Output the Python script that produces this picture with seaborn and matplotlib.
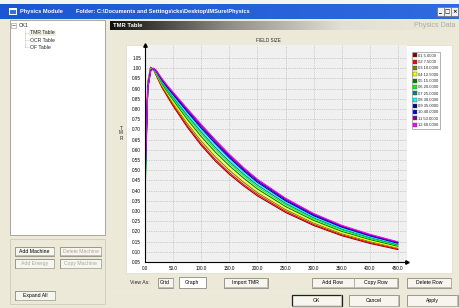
import matplotlib
matplotlib.use("Agg")
import matplotlib.pyplot as plt
import numpy as np
import pandas as pd
import seaborn as sns
from matplotlib.patches import Rectangle, Patch
from matplotlib.colors import LinearSegmentedColormap

# --------------------------------------------------
# Data
# --------------------------------------------------

depths = [0, 5, 10, 15, 20, 30, 40, 50, 75, 100, 125, 150, 175, 200, 250, 300, 350, 400, 450]

field_sizes = [5.0, 7.5, 10.0, 12.5, 15.0, 20.0, 25.0, 30.0, 35.0, 40.0, 50.0, 60.0]

field_colors = ["#800000", "#ff0000", "#808000", "#ffff00", "#008000", "#00ff00",
                "#008080", "#00ffff", "#000080", "#0000ff", "#800080", "#ff00ff"]

tmr_05_0 = [0.40, 0.930, 1.005, 0.995, 0.965, 0.907, 0.860, 0.815, 0.712, 0.622, 0.545, 0.480, 0.424, 0.374, 0.293, 0.229, 0.179, 0.141, 0.111]
tmr_07_5 = [0.62, 0.928, 1.003, 0.995, 0.967, 0.910, 0.864, 0.820, 0.719, 0.630, 0.553, 0.488, 0.431, 0.381, 0.299, 0.234, 0.183, 0.145, 0.114]
tmr_10_0 = [0.42, 0.924, 1.001, 0.996, 0.970, 0.916, 0.871, 0.829, 0.730, 0.643, 0.566, 0.500, 0.442, 0.390, 0.307, 0.241, 0.189, 0.150, 0.119]
tmr_12_5 = [0.38, 0.921, 0.999, 0.997, 0.973, 0.920, 0.877, 0.835, 0.739, 0.653, 0.577, 0.510, 0.451, 0.399, 0.314, 0.247, 0.194, 0.155, 0.122]
tmr_15_0 = [0.36, 0.917, 0.997, 0.997, 0.976, 0.925, 0.883, 0.844, 0.750, 0.665, 0.589, 0.522, 0.462, 0.408, 0.322, 0.254, 0.200, 0.160, 0.127]
tmr_20_0 = [0.35, 0.914, 0.994, 0.998, 0.979, 0.930, 0.890, 0.852, 0.761, 0.678, 0.602, 0.534, 0.473, 0.418, 0.331, 0.261, 0.207, 0.165, 0.132]
tmr_25_0 = [0.40, 0.911, 0.992, 0.998, 0.981, 0.935, 0.895, 0.859, 0.770, 0.688, 0.612, 0.543, 0.482, 0.427, 0.338, 0.267, 0.212, 0.170, 0.135]
tmr_30_0 = [0.42, 0.908, 0.990, 0.999, 0.983, 0.938, 0.900, 0.865, 0.778, 0.697, 0.622, 0.552, 0.490, 0.434, 0.344, 0.272, 0.216, 0.174, 0.139]
tmr_35_0 = [0.44, 0.905, 0.989, 0.999, 0.986, 0.942, 0.905, 0.871, 0.787, 0.706, 0.631, 0.561, 0.498, 0.441, 0.350, 0.277, 0.221, 0.178, 0.142]
tmr_40_0 = [0.46, 0.903, 0.987, 0.999, 0.987, 0.945, 0.909, 0.876, 0.793, 0.714, 0.639, 0.568, 0.504, 0.447, 0.355, 0.281, 0.224, 0.181, 0.145]
tmr_50_0 = [0.48, 0.902, 0.986, 1.000, 0.989, 0.948, 0.912, 0.880, 0.799, 0.720, 0.645, 0.574, 0.510, 0.452, 0.360, 0.285, 0.227, 0.184, 0.147]
tmr_60_0 = [0.45, 0.900, 0.985, 1.000, 0.990, 0.950, 0.915, 0.883, 0.803, 0.725, 0.650, 0.579, 0.514, 0.456, 0.363, 0.288, 0.230, 0.186, 0.149]

tmr_series = [tmr_05_0, tmr_07_5, tmr_10_0, tmr_12_5, tmr_15_0, tmr_20_0,
              tmr_25_0, tmr_30_0, tmr_35_0, tmr_40_0, tmr_50_0, tmr_60_0]

x_ticks = [0, 50, 100, 150, 200, 250, 300, 350, 400, 450]
y_ticks = [round(0.05 * i, 2) for i in range(1, 22)]

tree_items = ["TMR Table", "OCR Table", "OF Table"]

# --------------------------------------------------
# Long form table
# --------------------------------------------------

labels = [f"{i + 1:02d} {fs:.4f}" for i, fs in enumerate(field_sizes)]

rows = []
for lab, vals in zip(labels, tmr_series):
    for d, v in zip(depths, vals):
        rows.append((lab, d, v))

df = pd.DataFrame(rows, columns=["field", "depth", "tmr"])
palette = dict(zip(labels, field_colors))

# --------------------------------------------------
# Style
# --------------------------------------------------

sns.set_style("white")
plt.rcParams["font.family"] = ["Liberation Sans", "DejaVu Sans"]

BEIGE = "#ece9d8"

fig = plt.figure(figsize=(4.59, 3.08), dpi=100)
fig.patch.set_facecolor(BEIGE)

# gui layer in pixel coordinates
gui = fig.add_axes([0, 0, 1, 1])
gui.set_xlim(0, 459)
gui.set_ylim(308, 0)
gui.axis("off")


def rect(x0, y0, x1, y1, face, edge="none", lw=0.6, z=1):
    gui.add_patch(Rectangle((x0, y0), x1 - x0, y1 - y0, facecolor=face,
                            edgecolor=edge, linewidth=lw, zorder=z))


def button(x0, x1, y0, y1, text, enabled=True, default=False, pressed=False):
    face = "#ffffff" if pressed else "#f6f5ee"
    rect(x0, y0, x1, y1, face, "#8c8a80" if not default else "#202020",
         lw=0.6 if not default else 0.9, z=2)
    if not pressed:
        gui.plot([x0 + 0.5, x1 - 0.5, x1 - 0.5], [y1 - 0.5, y1 - 0.5, y0 + 0.5],
                 color="#b8b6aa", lw=0.6, zorder=3)
    gui.text((x0 + x1) / 2, (y0 + y1) / 2 + 0.3, text, ha="center", va="center",
             fontsize=3.7, color="#000000" if enabled else "#aaa89c", zorder=4)


# title bar
rect(0, 0, 459, 4.5, "#f4f4f4")
title_grad = np.linspace(0, 1, 256).reshape(1, -1)
gui.imshow(title_grad, extent=(0, 459, 19, 4.5), aspect="auto", zorder=1,
           cmap=LinearSegmentedColormap.from_list("t", ["#1c56d4", "#2f6ae0"]))
rect(9, 8, 17, 15, "#ffffff", z=2)
rect(10, 10, 16, 14, "#3a6fd8", z=3)
gui.text(20, 11.8, "Physics Module", fontsize=4.1, fontweight="bold",
         color="white", va="center", zorder=3)
gui.text(76, 11.8, "Folder: C:\\Documents and Settings\\cks\\Desktop\\IMSure\\Physics",
         fontsize=4.1, fontweight="bold", color="white", va="center", zorder=3)
for bx, glyph in zip([437, 444, 451], ["_", "□", "×"]):
    rect(bx, 7, bx + 6.5, 16, "#f0f0ee", "#606060", lw=0.4, z=3)
    gui.text(bx + 3.2, 11.5, glyph, fontsize=4, ha="center", va="center",
             color="#000000", fontweight="bold", zorder=4, family="DejaVu Sans")

# left tree panel
rect(10, 20, 105, 235, "white", "#8c8a80", lw=0.5)
rect(11, 22.8, 16, 27.8, "white", "#909090", lw=0.4, z=2)
gui.plot([12.3, 14.7], [25.3, 25.3], color="#303030", lw=0.4, zorder=3)
gui.text(18.5, 25.3, "CK1", fontsize=3.7, va="center", zorder=3)
gui.plot([25, 25], [28, 47.5], color="#909090", lw=0.4, ls=(0, (1, 1)), zorder=2)
rect(28.5, 29.8, 55.5, 35.8, "#f1efe2", z=2)
for i, item in enumerate(tree_items):
    yy = 32.8 + 7.2 * i
    gui.plot([25, 29], [yy, yy], color="#909090", lw=0.4, ls=(0, (1, 1)), zorder=2)
    gui.text(29.5, yy, item, fontsize=3.7, va="center", zorder=3)

# left group box + buttons
rect(10, 238.5, 105, 304, "none", "#c8c5b4", lw=0.5)
button(15, 54, 246.5, 255.5, "Add Machine")
button(60, 101, 246.5, 255.5, "Delete Machine", enabled=False)
button(15, 54, 259, 268, "Add Energy", enabled=False)
button(60, 101, 259, 268, "Copy Machine", enabled=False)
button(15, 55, 291, 300, "Expand All")

# right header bar
head_grad = np.linspace(0, 1, 256).reshape(1, -1)
gui.imshow(head_grad, extent=(110, 457, 30, 21), aspect="auto", zorder=1,
           cmap=LinearSegmentedColormap.from_list(
               "h", ["#101010", "#8c8a84", "#e2e0d6", "#ece9d8"]))
gui.text(113, 25.8, "TMR Table", fontsize=4.2, fontweight="bold", color="white",
         va="center", zorder=3)
gui.text(455, 25.8, "Physics Data", fontsize=5, color="#aaaaaa", ha="right",
         va="center", zorder=3)

# chart panel
rect(126, 45, 452, 273, "white", "#d8d5c8", lw=0.4)
gui.text(268, 40, "FIELD SIZE", fontsize=3.3, ha="center", va="center", zorder=3)
gui.text(121, 133, "T\nM\nR", fontsize=3.4, ha="center", va="center",
         linespacing=1.0, zorder=3)

# bottom controls
gui.text(130, 283, "View As:", fontsize=3.7, va="center", zorder=3)
button(157.5, 173, 277.5, 287.5, "Grid")
button(178.5, 205.5, 277, 288, "Graph", pressed=True)
button(224, 267.5, 277.5, 287.5, "Import TMR")
button(311.5, 354, 277.5, 287.5, "Add Row")
button(354, 397.5, 277.5, 287.5, "Copy Row")
button(407, 451, 277.5, 287.5, "Delete Row")
gui.plot([110, 459], [290.5, 290.5], color="#aca899", lw=0.5, zorder=2)
gui.plot([110, 459], [291.3, 291.3], color="#ffffff", lw=0.5, zorder=2)
button(291.5, 341.5, 294.5, 306, "OK", default=True)
button(348.5, 398.5, 294.5, 306, "Cancel")
button(407, 457.5, 294.5, 306, "Apply")

gui.set_xlim(0, 459)
gui.set_ylim(308, 0)

# --------------------------------------------------
# TMR graph
# --------------------------------------------------

ax = fig.add_axes([145 / 459, 1 - 262 / 308, (407 - 145) / 459, (262 - 45) / 308])
ax.set_facecolor("#f0f0f0")

sns.lineplot(
    data=df,
    x="depth",
    y="tmr",
    hue="field",
    palette=palette,
    estimator=None,
    linewidth=0.75,
    legend=False,
    ax=ax,
)

ax.set_xlim(0, 466)
ax.set_ylim(0.05, 1.114)
ax.set_xticks(x_ticks)
ax.set_xticklabels([f"{v:.1f}" for v in x_ticks])
ax.set_yticks(y_ticks)
ax.set_yticklabels([f"{v:.2f}" for v in y_ticks])
ax.tick_params(axis="both", labelsize=3.3, length=2, width=0.5, pad=0.8,
               colors="#000000", direction="out")
ax.set_xlabel("")
ax.set_ylabel("")

ax.grid(True, color="#a8a8a8", linestyle=(0, (1, 1.6)), linewidth=0.5)
for side in ["top", "right"]:
    ax.spines[side].set_visible(False)
for side in ["left", "bottom"]:
    ax.spines[side].set_color("#000000")
    ax.spines[side].set_linewidth(0.8)

ax.plot([1], [0], marker=">", markersize=2.5, color="black",
        transform=ax.transAxes, clip_on=False)
ax.plot([0], [1], marker="^", markersize=2.5, color="black",
        transform=ax.transAxes, clip_on=False)

handles = [Patch(facecolor=c, edgecolor="#505050", linewidth=0.3) for c in field_colors]
leg = ax.legend(
    handles,
    labels,
    loc="upper left",
    bbox_to_anchor=(412 / 459, 1 - 52 / 308),
    bbox_transform=fig.transFigure,
    fontsize=3.0,
    frameon=True,
    fancybox=False,
    edgecolor="#8c8c8c",
    borderpad=0.35,
    labelspacing=0.45,
    handlelength=0.8,
    handleheight=1.1,
    handletextpad=0.4,
    borderaxespad=0,
)
leg.get_frame().set_linewidth(0.6)
leg.get_frame().set_facecolor("white")

fig.savefig("out.png", dpi=100, facecolor=fig.get_facecolor())
